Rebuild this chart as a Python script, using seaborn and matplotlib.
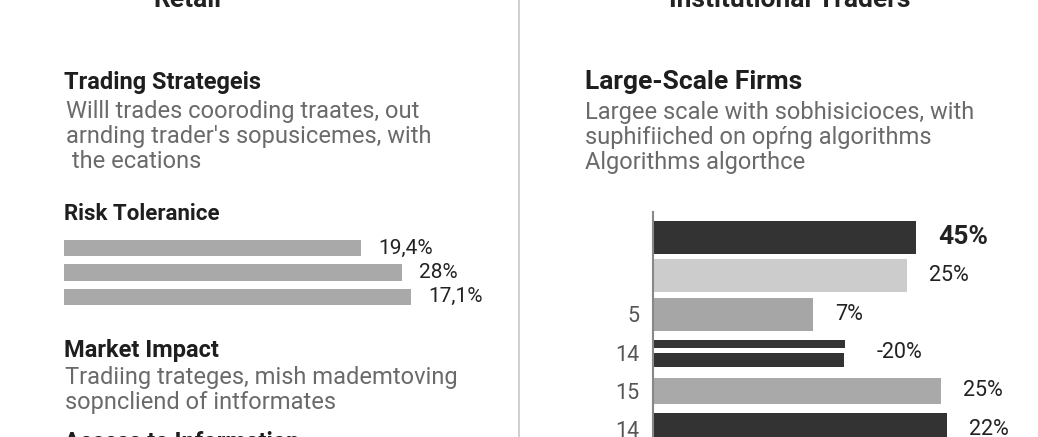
import matplotlib
matplotlib.use("Agg")
import matplotlib.pyplot as plt
import seaborn as sns
import pandas as pd

# ---- data ----
retail_values = [297, 338, 347]            # bar lengths (chart units)
retail_labels = ["19,4%", "28%", "17,1%"]

inst_rows = [0, 1, 2, 3, 3, 4, 5]          # row index of each bar
inst_values = [263, 254, 160, 192, 191, 288, 294]
inst_labels = ["45%", "25%", "7%", "-20%", None, "25%", "22%"]
inst_ticks = ["", "", "5", "14", "15", "14"]

W, H = 1038, 437
plt.rcParams["font.family"] = "Roboto"
fig = plt.figure(figsize=(W / 100, H / 100), dpi=100)
fig.patch.set_facecolor("white")


def px(x, y):
    return x / W, 1 - y / H


def axes_px(x0, y0, x1, y1):
    return fig.add_axes([x0 / W, 1 - y1 / H, (x1 - x0) / W, (y1 - y0) / H])


# divider and column titles
fig.add_artist(plt.Line2D([519 / W, 519 / W], [0, 1], color="#c8c8c8", lw=1.2))
fig.text(*px(187, 0), "Retail", ha="center", va="center", fontsize=19, weight="bold", color="#222")
fig.text(*px(790, 0), "Institutional Traders", ha="center", va="center", fontsize=19, weight="bold", color="#222")

# left text blocks
head = dict(fontsize=17, weight="bold", color="#1e1e1e", va="center")
body = dict(fontsize=17, color="#6a6a6a", va="top", linespacing=1.1)
fig.text(*px(64, 82), "Trading Strategeis", **head)
fig.text(*px(66, 100), "Willl trades cooroding traates, out\narnding trader's sopusicemes, with\n the ecations", **body)
fig.text(*px(64, 214), "Risk Toleranice", fontsize=16, weight="bold", color="#1e1e1e", va="center")
fig.text(*px(64, 351), "Market Impact", **head)
fig.text(*px(65, 366), "Tradiing trateges, mish mademtoving\nsopncliend of intformates", **body)
fig.text(*px(64, 442), "Access to Information", **head)

# right text blocks
fig.text(*px(585, 82), "Large-Scale Firms", fontsize=19, weight="bold", color="#1e1e1e", va="center")
fig.text(*px(585, 101), "Largee scale with sobhisicioces, with\nsuphifiiched on opŕng algorithms\nAlgorithms algorthce", **body)

# left bars
axl = axes_px(64, 236, 519, 309)
df_l = pd.DataFrame({"row": [0, 1, 2], "val": retail_values})
sns.barplot(data=df_l, x="val", y="row", orient="h", order=[0, 1, 2], color="#a9a9a9",
            saturation=1, width=0.66, ax=axl)
for i, (v, lab) in enumerate(zip(retail_values, retail_labels)):
    axl.text(v + 17, i, lab, va="center", ha="left", fontsize=15, color="#222")
axl.set_xlim(0, 455)
axl.axis("off")

# right bars
axr = axes_px(653, 212, 1038, 437)
colors = ["#333333", "#cccccc", "#a6a6a6", "#333333", "#333333", "#a9a9a9", "#333333"]
heights = [0.86, 0.86, 0.86, 0.22, 0.36, 0.66, 0.86]
offsets = [0, 0, 0, -0.22, 0.2, 0, 0]
for r, v, c, h, o in zip(inst_rows, inst_values, colors, heights, offsets):
    axr.barh(r + o, v, height=h, color=c)
for r, v, lab in zip(inst_rows, inst_values, inst_labels):
    if lab is None:
        continue
    bold = lab == "45%"
    axr.text(v + (22 if r != 3 else 32), r, lab, va="center", ha="left",
             fontsize=19 if bold else 15.5, weight="bold" if bold else "normal", color="#222")
axr.set_xlim(0, 385)
axr.set_ylim(5.2, -0.66)
axr.set_yticks(range(len(inst_ticks)))
axr.set_yticklabels(inst_ticks, fontsize=15.5, color="#555")
axr.tick_params(axis="y", length=0, pad=10)
axr.set_xticks([])
for s in ["top", "right", "bottom"]:
    axr.spines[s].set_visible(False)
axr.spines["left"].set_color("#888")
axr.spines["left"].set_linewidth(1.5)
axr.set_facecolor("none")

fig.savefig("out.png", dpi=100, facecolor="white")
